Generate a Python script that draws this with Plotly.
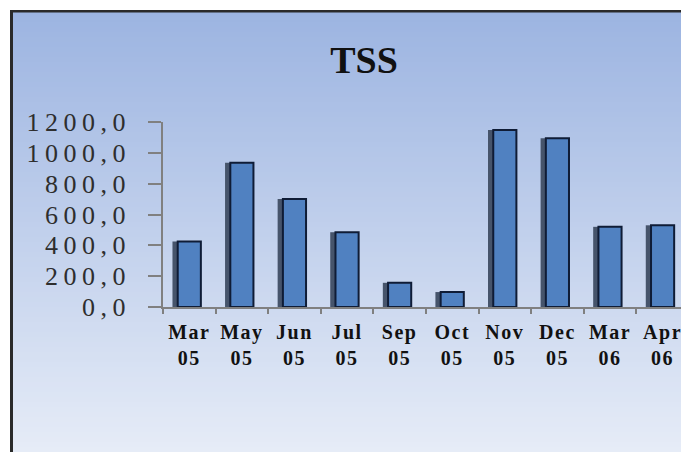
import plotly.graph_objects as go

# ---- data ----
months = ["Mar 05", "May 05", "Jun 05", "Jul 05", "Sep 05", "Oct 05",
          "Nov 05", "Dec 05", "Mar 06", "Apr 06"]
tss = [425, 935, 700, 485, 157, 97, 1148, 1095, 520, 530]
y_ticks = [0, 200, 400, 600, 800, 1000, 1200]
chart_title = "TSS"

W, H = 681, 452

def px_x(x):
    return x / W

def px_y(y):
    return 1 - y / H

def spaced(t, ls):
    return '<span style="letter-spacing:%spx">%s</span>' % (ls, t)

x_labels = ["<br>".join(spaced(p, 1.5) for p in m.split(" ")) for m in months]
y_labels = [spaced(("%.1f" % v).replace(".", ","), 5.5) for v in y_ticks]

fig = go.Figure()

# 3D side shadow of the bars
fig.add_trace(go.Bar(
    x=months, y=tss, width=0.2, offset=-0.32,
    marker=dict(color="#46546b", line=dict(width=0)),
    hoverinfo="skip", showlegend=False,
))
# main bars
fig.add_trace(go.Bar(
    x=months, y=tss, width=0.44, offset=-0.22,
    marker=dict(color="#5081c1", line=dict(color="#0f1c36", width=2)),
    showlegend=False,
))

# background gradient + border
shapes = [dict(type="rect", xref="paper", yref="paper", x0=0, x1=1, y0=0, y1=1,
               fillcolor="white", line=dict(width=0), layer="below")]
top_c = (156, 180, 225)
bot_c = (230, 236, 247)
y_start, y_end = 12, H
N = 88
for i in range(N):
    ya = y_start + (y_end - y_start) * i / N
    yb = y_start + (y_end - y_start) * (i + 1) / N + 0.6
    f = (i + 0.5) / N
    c = tuple(round(top_c[k] + (bot_c[k] - top_c[k]) * f) for k in range(3))
    shapes.append(dict(type="rect", xref="paper", yref="paper",
                       x0=px_x(12), x1=1, y0=px_y(min(yb, H)), y1=px_y(ya),
                       fillcolor="rgb(%d,%d,%d)" % c, line=dict(width=0), layer="below"))
shapes.append(dict(type="line", xref="paper", yref="paper",
                   x0=px_x(11.5), x1=px_x(11.5), y0=0, y1=px_y(10),
                   line=dict(color="#2a2a2a", width=3), layer="below"))
shapes.append(dict(type="line", xref="paper", yref="paper",
                   x0=px_x(10), x1=1, y0=px_y(11.2), y1=px_y(11.2),
                   line=dict(color="#2a2a2a", width=2.5), layer="below"))

fig.update_layout(
    width=W, height=H,
    margin=dict(l=0, r=0, t=0, b=0, pad=0),
    paper_bgcolor="white",
    plot_bgcolor="rgba(0,0,0,0)",
    barmode="overlay",
    shapes=shapes,
    title=dict(text="<b>%s</b>" % chart_title, x=px_x(364), y=px_y(60),
               xanchor="center", yanchor="middle", xref="paper", yref="paper",
               font=dict(family="Liberation Serif", size=38, color="#111111")),
    xaxis=dict(domain=[px_x(163), 1], range=[-0.5, 9.35], type="category",
               tickmode="array", tickvals=months, ticktext=x_labels,
               tickangle=0,
               showgrid=False, zeroline=False,
               showline=True, linecolor="#808080", linewidth=1.5,
               ticks="outside", tickson="boundaries", ticklen=5,
               tickcolor="#808080", tickwidth=1.5,
               ticklabelstandoff=6,
               tickfont=dict(family="Liberation Serif", size=20, color="#111111",
                             weight="bold"),
               automargin=False),
    yaxis=dict(domain=[px_y(307), px_y(122)], range=[0, 1200],
               tickmode="array", tickvals=y_ticks, ticktext=y_labels,
               showgrid=False, zeroline=False,
               showline=True, linecolor="#808080", linewidth=1.5,
               ticks="outside", ticklen=13, tickcolor="#808080", tickwidth=1.5,
               ticklabelstandoff=12,
               tickfont=dict(family="Liberation Serif", size=26, color="#2e2e2e"),
               automargin=False),
)

fig.write_html("out.html", config={"displayModeBar": False},
               post_script="document.body.style.margin='0';document.body.style.overflow='hidden';")
